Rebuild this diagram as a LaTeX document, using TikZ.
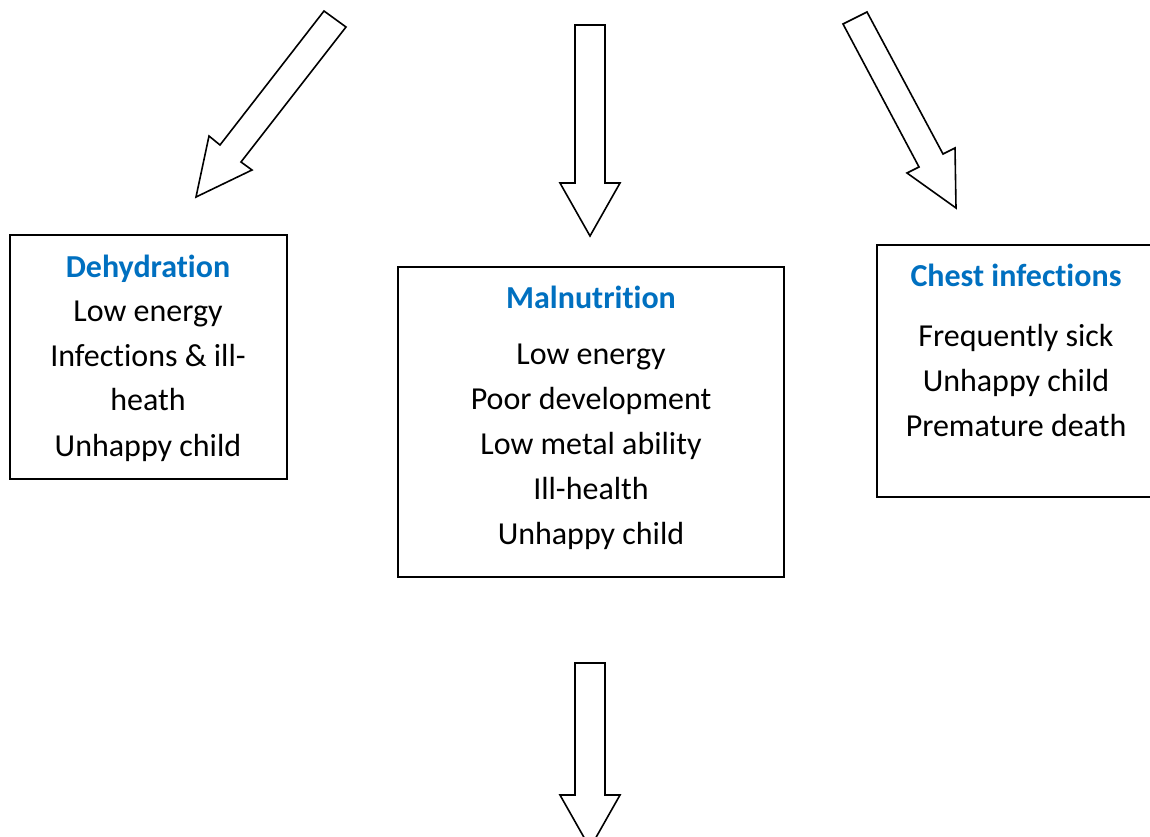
\documentclass[tikz,border=0pt]{standalone}
\usepackage{fontspec}
\setmainfont{Carlito}[Ligatures=CommonOff]
\definecolor{titleblue}{HTML}{0070C0}

\begin{document}
\begin{tikzpicture}[x=1pt,y=-1pt,line join=miter,
    every node/.style={inner sep=0pt,anchor=base,font=\fontsize{32}{45}\selectfont},
    blockarrow/.style={draw=black,line width=1.6pt,fill=white},
    effectbox/.style={draw=black,line width=1.4pt,fill=white},
    boxtitle/.style={text=titleblue,font=\fontsize{32}{45}\selectfont\bfseries}]
  \clip (0,0) rectangle (1150,836);
  \fill[white] (0,0) rectangle (1150,836);
  % block arrows
  \draw[blockarrow] (324,11) -- (346,27) -- (241,162) -- (252,170) -- (196,197) -- (209,136) -- (220,145) -- cycle;
  \draw[blockarrow] (575,25) -- (605,25) -- (605,183) -- (620,183) -- (590,236) -- (560,183) -- (575,183) -- cycle;
  \draw[blockarrow] (843,24) -- (867,12) -- (943,154) -- (955,148) -- (956,208) -- (907,173) -- (919,167) -- cycle;
  \draw[blockarrow] (575,663) -- (605,663) -- (605,795) -- (620,795) -- (590,848) -- (560,795) -- (575,795) -- cycle;
  % boxes
  \draw[effectbox] (10,235) rectangle (287,479);
  \draw[effectbox] (398,267) rectangle (784,577);
  \draw[effectbox] (877,245) rectangle (1153,497);
  % dehydration
  \node[boxtitle] (dehyT) at (148,277) {Dehydration};
  \node (dehyA) at (148,321) {Low energy};
  \node (dehyB) at (148,366) {Infections \& ill-};
  \node (dehyC) at (148,410) {heath};
  \node (dehyD) at (148,456) {Unhappy child};
  % malnutrition
  \node[boxtitle] (malT) at (591,308) {Malnutrition};
  \node (malA) at (591,364) {Low energy};
  \node (malB) at (591,409) {Poor development};
  \node (malC) at (591,454) {Low metal ability};
  \node (malD) at (591,499) {Ill-health};
  \node (malE) at (591,544) {Unhappy child};
  % chest infections
  \node[boxtitle] (chestT) at (1016,286) {Chest infections};
  \node (chestA) at (1016,346) {Frequently sick};
  \node (chestB) at (1016,391) {Unhappy child};
  \node (chestC) at (1016,436) {Premature death};
\end{tikzpicture}
\end{document}
